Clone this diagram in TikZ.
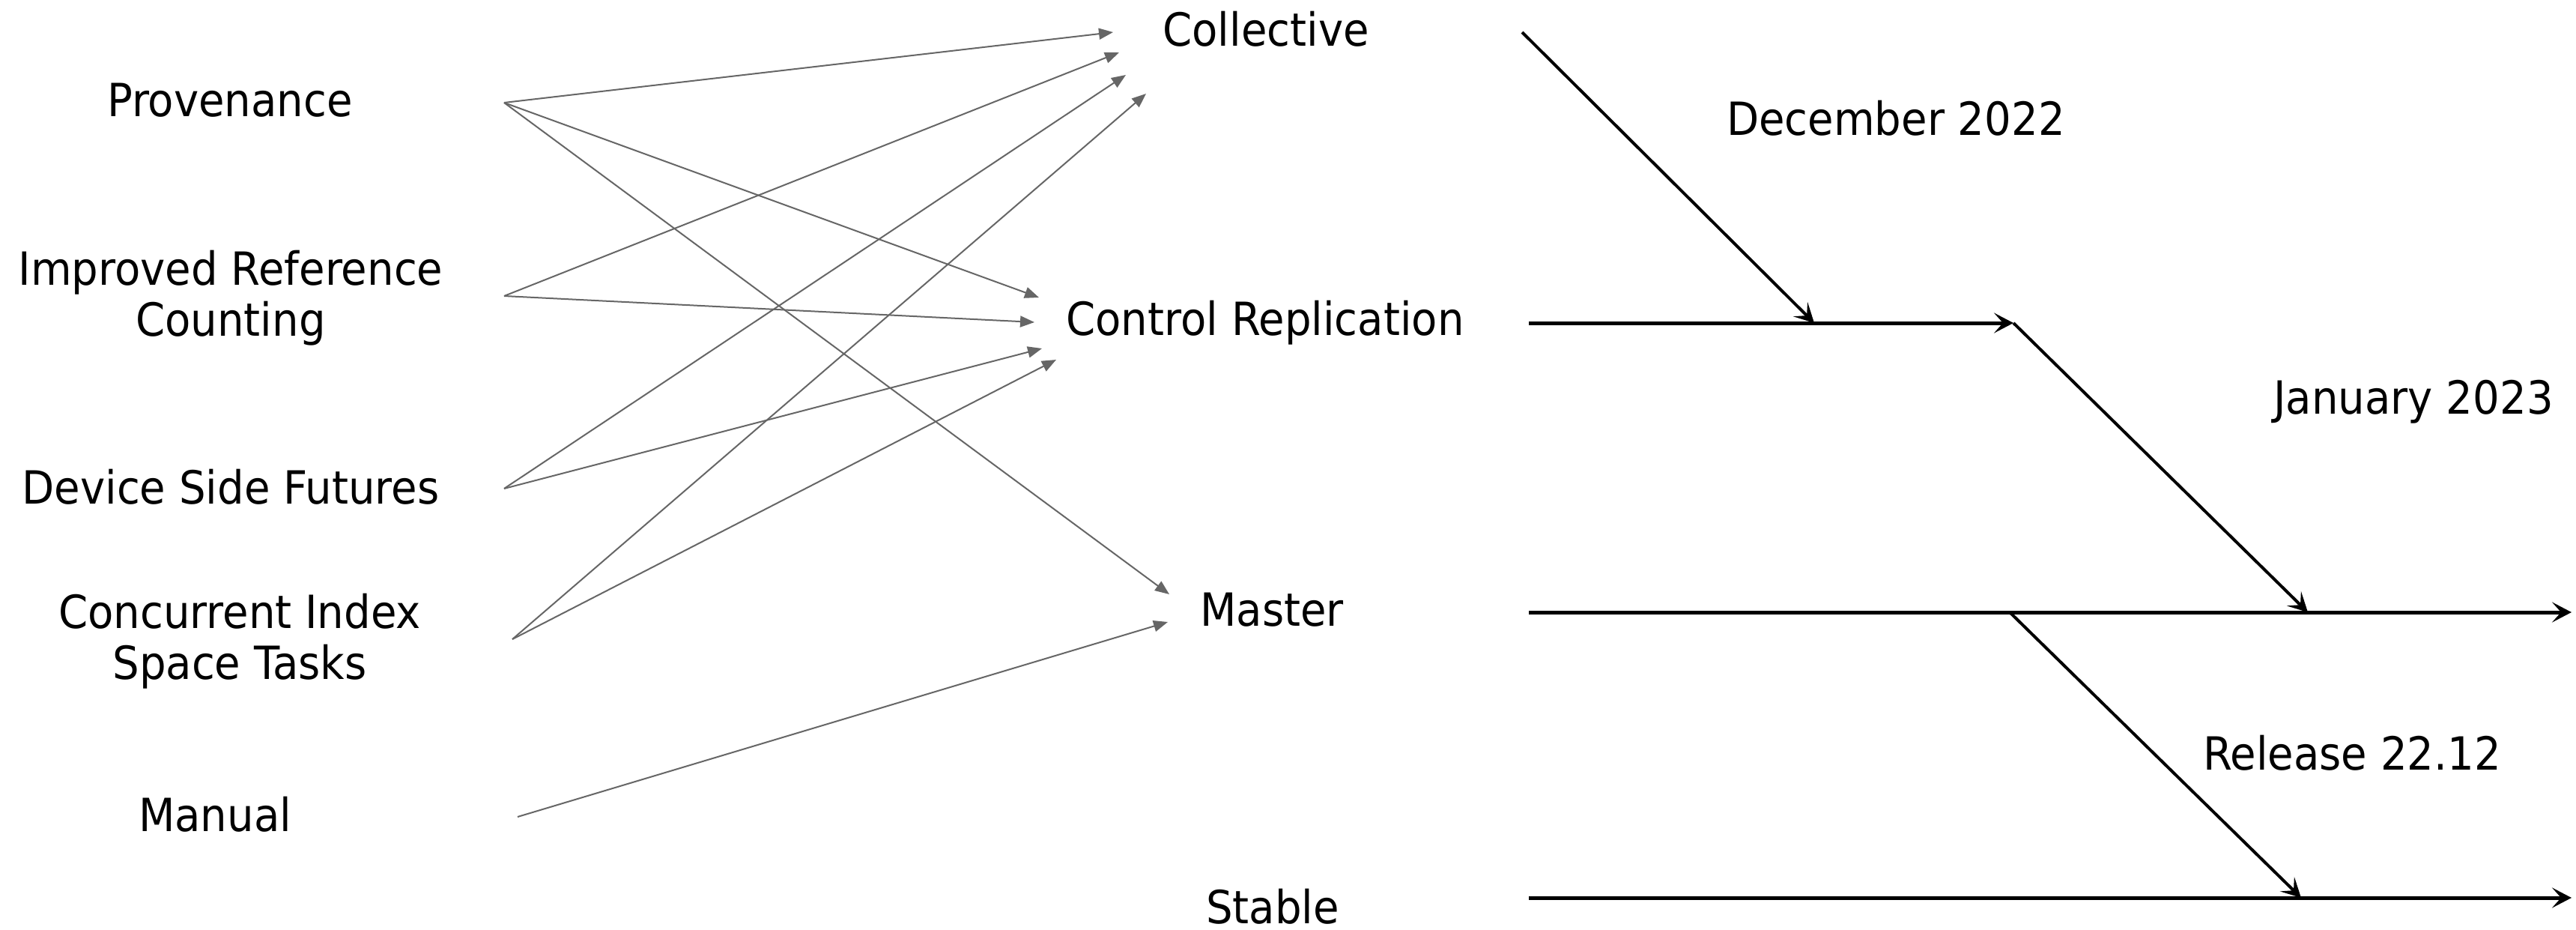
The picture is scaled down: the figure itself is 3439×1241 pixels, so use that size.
\documentclass[tikz,border=0pt]{standalone}
\usepackage{fontspec}
\setmainfont{DejaVu Sans}[FakeStretch=0.92]
\usetikzlibrary{arrows.meta}
\begin{document}
\begin{tikzpicture}[x=1pt,y=-1pt,
  lbl/.style={font=\fontsize{61}{68}\selectfont, inner sep=0pt, anchor=base, align=center},
  feed/.style={draw=black!60, line width=2pt, -{Triangle[length=19pt,width=15pt]}},
  track/.style={draw=black, line width=5pt, -{Stealth[length=26pt,width=27pt,inset=12pt]}},
  merge/.style={draw=black, line width=4pt, -{Stealth[length=26pt,width=27pt,inset=12pt]}}]
\useasboundingbox (0,0) rectangle (3439,1241);

% features (two-line labels sit on the baseline of their last line)
\node[lbl] (prov) at (307,156) {Provenance};
\node[lbl] (irc)  at (308,448) {Improved Reference\\Counting};
\node[lbl] (dsf)  at (308,672) {Device Side Futures};
\node[lbl] (cist) at (320,906) {Concurrent Index\\Space Tasks};
\node[lbl] (man)  at (287,1109) {Manual};

% branches
\node[lbl] (coll) at (1690,62) {Collective};
\node[lbl] (cr)   at (1689,447) {Control Replication};
\node[lbl] (mast) at (1698,835) {Master};
\node[lbl] (stab) at (1699,1232) {Stable};

% milestones
\node[lbl] (dec) at (2531,181) {December 2022};
\node[lbl] (jan) at (3222,552) {January 2023};
\node[lbl] (rel) at (3140,1027) {Release 22.12};

% feature outlets
\coordinate (prov-o) at (673,137);
\coordinate (irc-o)  at (673,395);
\coordinate (dsf-o)  at (673,652);
\coordinate (cist-o) at (684,853);
\coordinate (man-o)  at (691,1090);

% branch inlets
\coordinate (coll-a) at (1486,43);
\coordinate (coll-b) at (1494,70);
\coordinate (coll-c) at (1503,100);
\coordinate (coll-d) at (1530,125);
\coordinate (cr-a)   at (1387,397);
\coordinate (cr-b)   at (1381,430);
\coordinate (cr-c)   at (1391,465);
\coordinate (cr-d)   at (1410,480);
\coordinate (mast-a) at (1561,793);
\coordinate (mast-b) at (1559,830);

\draw[feed] (prov-o) -- (coll-a);
\draw[feed] (prov-o) -- (cr-a);
\draw[feed] (prov-o) -- (mast-a);
\draw[feed] (irc-o)  -- (coll-b);
\draw[feed] (irc-o)  -- (cr-b);
\draw[feed] (dsf-o)  -- (coll-c);
\draw[feed] (dsf-o)  -- (cr-c);
\draw[feed] (cist-o) -- (coll-d);
\draw[feed] (cist-o) -- (cr-d);
\draw[feed] (man-o)  -- (mast-b);

% branch timelines
\coordinate (coll-s) at (2032,43);
\coordinate (cr-s)   at (2041,431);
\coordinate (cr-m)   at (2422,431);
\coordinate (cr-e)   at (2688,431);
\coordinate (mast-s) at (2041,817);
\coordinate (mast-f) at (2683,817);
\coordinate (mast-m) at (3081,817);
\coordinate (mast-e) at (3433,817);
\coordinate (stab-s) at (2041,1198);
\coordinate (stab-m) at (3072,1198);
\coordinate (stab-e) at (3433,1198);

\draw[track] (cr-s) -- (cr-e);
\draw[track] (mast-s) -- (mast-e);
\draw[track] (stab-s) -- (stab-e);
\draw[merge] (coll-s) -- (cr-m);
\draw[merge] (cr-e) -- (mast-m);
\draw[merge] (mast-f) -- (stab-m);
\end{tikzpicture}
\end{document}
